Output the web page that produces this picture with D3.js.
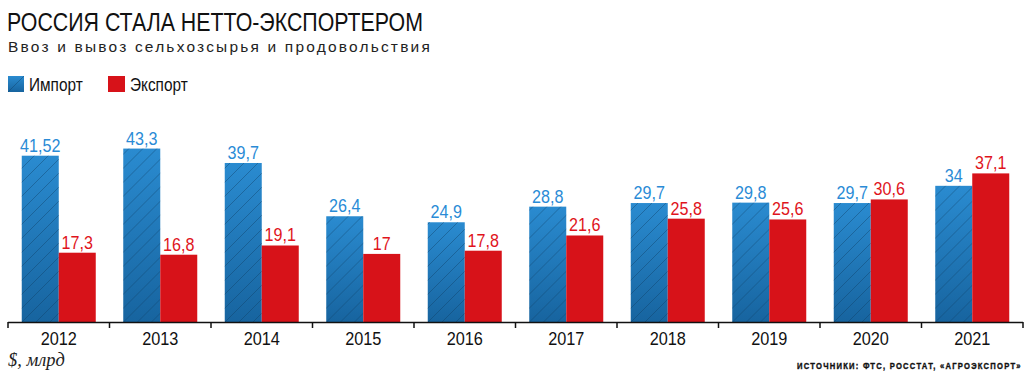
<!DOCTYPE html>
<html><head><meta charset="utf-8">
<script src="https://cdn.jsdelivr.net/npm/d3@7"></script>
<style>
body{margin:0;background:#fff;}
svg{display:block;}
</style></head>
<body>
<svg id="c" width="1029" height="377"></svg>
<script>
const years = ["2012","2013","2014","2015","2016","2017","2018","2019","2020","2021"];
const importVals = [41.52,43.3,39.7,26.4,24.9,28.8,29.7,29.8,29.7,34];
const exportVals = [17.3,16.8,19.1,17,17.8,21.6,25.8,25.6,30.6,37.1];
const importLabels = ["41,52","43,3","39,7","26,4","24,9","28,8","29,7","29,8","29,7","34"];
const exportLabels = ["17,3","16,8","19,1","17","17,8","21,6","25,8","25,6","30,6","37,1"];
const seriesNames = ["Импорт","Экспорт"];

const svg = d3.select("#c");
const F = '"Liberation Sans",Arial,sans-serif';
function condense(sel, k){
  sel.each(function(){
    const L = this.getComputedTextLength();
    d3.select(this).attr("textLength", L*k).attr("lengthAdjust","spacingAndGlyphs");
  });
}
const defs = svg.append("defs");
const grad = defs.append("linearGradient").attr("id","bg").attr("x1",0).attr("y1",0).attr("x2",0).attr("y2",1);
grad.append("stop").attr("offset","0%").attr("stop-color","#2a8bd0");
grad.append("stop").attr("offset","100%").attr("stop-color","#17649f");
const pat = defs.append("pattern").attr("id","hatch").attr("patternUnits","userSpaceOnUse")
  .attr("width",14).attr("height",14);
pat.append("path").attr("d","M-1,15 L15,-1 M-8,8 L8,-8 M6,22 L22,6")
  .attr("stroke","#0e3f66").attr("stroke-width",0.7).attr("stroke-opacity",0.6);

const baseY = 322;
const x = d3.scaleBand().domain(years).range([8,1023]).paddingInner(0).paddingOuter(0);
const inner = d3.scaleBand().domain(["imp","exp"]).range([x.bandwidth()/2-37, x.bandwidth()/2+37]);
const y = d3.scaleLinear().domain([0,41.52]).range([baseY, 155.7]);

// title
svg.append("text").attr("x",7).attr("y",31).attr("font-family",F).attr("font-size",26.5)
  .attr("fill","#111").text("РОССИЯ СТАЛА НЕТТО-ЭКСПОРТЕРОМ").attr("textLength",416).attr("lengthAdjust","spacingAndGlyphs");
svg.append("text").attr("x",8).attr("y",52).attr("font-family",F).attr("font-size",15.5)
  .attr("letter-spacing",2.2).attr("fill","#222").text("Ввоз и вывоз сельхозсырья и продовольствия")
  .attr("textLength",424).attr("lengthAdjust","spacingAndGlyphs");

// legend
const lg = svg.append("g");
lg.append("rect").attr("x",8).attr("y",76).attr("width",16).attr("height",16).attr("fill","url(#bg)");
lg.append("line").attr("x1",8).attr("y1",92).attr("x2",24).attr("y2",76).attr("stroke","#0e3f66").attr("stroke-width",0.7).attr("stroke-opacity",0.6);
lg.append("text").attr("x",29).attr("y",91).attr("font-family",F).attr("font-size",18.5).attr("fill","#111").text(seriesNames[0]).call(condense,0.83);
lg.append("rect").attr("x",108).attr("y",76).attr("width",17).attr("height",16).attr("fill","#d71219");
lg.append("text").attr("x",130).attr("y",91).attr("font-family",F).attr("font-size",18.5).attr("fill","#111").text(seriesNames[1]).call(condense,0.83);

const g = svg.append("g");
const groups = g.selectAll("g.yr").data(years).join("g").attr("transform",d=>`translate(${x(d)},0)`);
groups.append("rect").attr("x",inner("imp")).attr("width",inner.bandwidth())
  .attr("y",(d,i)=>y(importVals[i])).attr("height",(d,i)=>baseY-y(importVals[i])).attr("fill","url(#bg)");
groups.append("rect").attr("x",inner("imp")).attr("width",inner.bandwidth())
  .attr("y",(d,i)=>y(importVals[i])).attr("height",(d,i)=>baseY-y(importVals[i])).attr("fill","url(#hatch)");
groups.append("rect").attr("x",inner("exp")).attr("width",inner.bandwidth())
  .attr("y",(d,i)=>y(exportVals[i])).attr("height",(d,i)=>baseY-y(exportVals[i])).attr("fill","#d71219");
groups.append("text").attr("x",inner("imp")+inner.bandwidth()/2).attr("y",(d,i)=>y(importVals[i])-4)
  .attr("text-anchor","middle").attr("font-family",F).attr("font-size",17.5).attr("fill","#2a8bd6")
  .text((d,i)=>importLabels[i]).call(condense,0.92);
groups.append("text").attr("x",inner("exp")+inner.bandwidth()/2).attr("y",(d,i)=>y(exportVals[i])-4)
  .attr("text-anchor","middle").attr("font-family",F).attr("font-size",17.5).attr("fill","#e0141c")
  .text((d,i)=>exportLabels[i]).call(condense,0.92);

// axis
const ax = svg.append("g").attr("transform",`translate(0,${baseY})`)
  .call(d3.axisBottom(x).tickSize(0).tickPadding(0).tickFormat(""));
ax.select(".domain").attr("stroke","#111").attr("stroke-width",1.5).attr("d","M8,0.5H1023");
ax.selectAll(".tick").remove();
const edges = x.domain().map(d=>x(d)).concat([x.range()[1]]);
ax.selectAll("line.tk").data(edges).join("line").attr("class","tk")
  .attr("x1",d=>d).attr("x2",d=>d).attr("y1",0).attr("y2",6).attr("stroke","#111").attr("stroke-width",1.5);
ax.selectAll("text.yl").data(years).join("text").attr("class","yl")
  .attr("x",d=>x(d)+x.bandwidth()/2).attr("y",23).attr("text-anchor","middle")
  .attr("font-family",F).attr("font-size",18.5).attr("fill","#111").text(d=>d).call(condense,0.88);

svg.append("text").attr("x",8).attr("y",366).attr("font-family","'Liberation Serif','DejaVu Serif',serif")
  .attr("font-style","italic").attr("font-size",18.5).attr("fill","#222").text("$, млрд");
const src = svg.append("g");
const st = src.append("text").attr("x",0).attr("y",0).attr("font-family",F)
  .attr("font-weight","bold").attr("font-size",9.8).attr("letter-spacing",1.6).attr("fill","#111")
  .attr("stroke","#111").attr("stroke-width",0.4)
  .text("ИСТОЧНИКИ: ФТС, РОССТАТ, «АГРОЭКСПОРТ»");
const srcL = st.node().getComputedTextLength();
src.attr("transform",`translate(797,369) scale(${225/srcL},1)`);
</script>
</body></html>
